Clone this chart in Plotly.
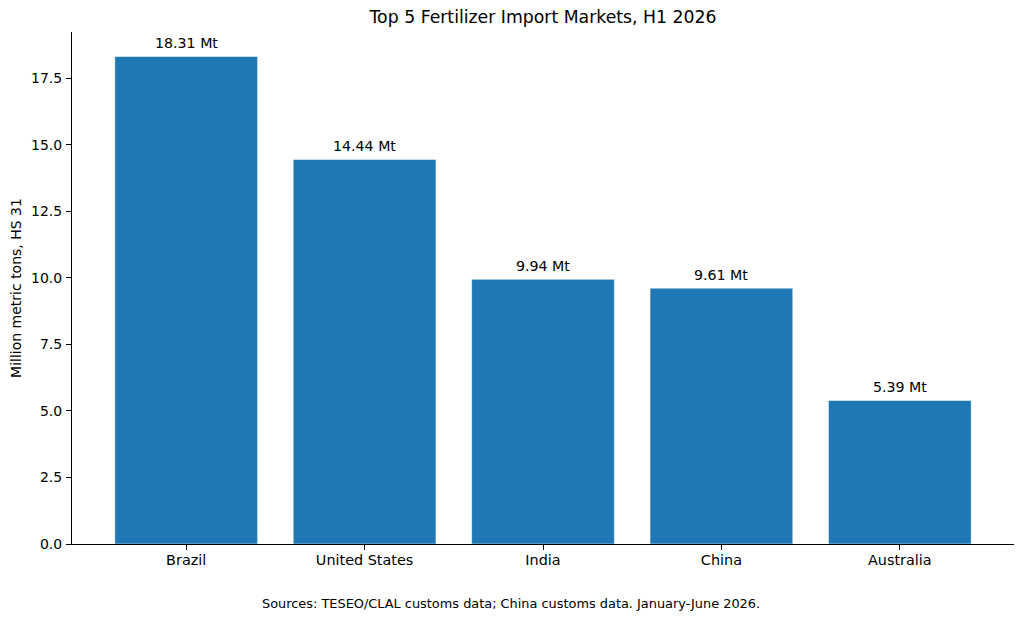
import plotly.graph_objects as go

countries = ["Brazil", "United States", "India", "China", "Australia"]
imports_mt = [18.31, 14.44, 9.94, 9.61, 5.39]
y_ticks = [0, 2.5, 5, 7.5, 10, 12.5, 15, 17.5]
y_labels = ["0.0", "2.5", "5.0", "7.5", "10.0", "12.5", "15.0", "17.5"]

fig = go.Figure()
fig.add_bar(
    x=countries,
    y=imports_mt,
    width=0.8,
    marker=dict(color="#1f77b4", line=dict(color="white", width=0.5)),
    hoverinfo="x+y",
)

# value labels sit a bit higher than textposition="outside" puts them
for name, val in zip(countries, imports_mt):
    fig.add_annotation(
        x=name, y=val, text=f"{val:.2f} Mt",
        yshift=13.5, yanchor="middle", showarrow=False,
        font=dict(size=14.2),
    )

fig.update_layout(
    width=1024,
    height=622,
    margin=dict(l=64, r=18, t=24, b=86),
    paper_bgcolor="white",
    plot_bgcolor="white",
    showlegend=False,
    font=dict(family="DejaVu Sans", size=14, color="black"),
    title=dict(text="Top 5 Fertilizer Import Markets, H1 2026", x=0.5225, xanchor="center",
               y=0.9855, yanchor="middle", font=dict(size=17.3)),
)
fig.update_xaxes(
    range=[-0.64, 4.64],
    automargin=False,
    showgrid=False,
    showline=True,
    linecolor="black",
    linewidth=1,
    ticks="outside",
    ticklen=5,
    tickcolor="black",
    tickfont=dict(size=14.4),
    ticklabelstandoff=-2,
)
fig.update_yaxes(
    range=[0, 19.23],
    automargin=False,
    tickvals=y_ticks,
    ticktext=y_labels,
    showgrid=False,
    zeroline=False,
    showline=True,
    linecolor="black",
    linewidth=1,
    ticks="outside",
    ticklen=5,
    tickcolor="black",
    tickfont=dict(size=14),
    ticklabelstandoff=1,
    title=dict(text="Million metric tons, HS 31", font=dict(size=14), standoff=9),
)
fig.add_annotation(
    text="Sources: TESEO/CLAL customs data; China customs data. January-June 2026.",
    xref="paper", yref="paper", x=0.466, y=-0.117,
    xanchor="center", yanchor="middle",
    showarrow=False,
    font=dict(size=12.9),
)

fig.write_html("out.html")
